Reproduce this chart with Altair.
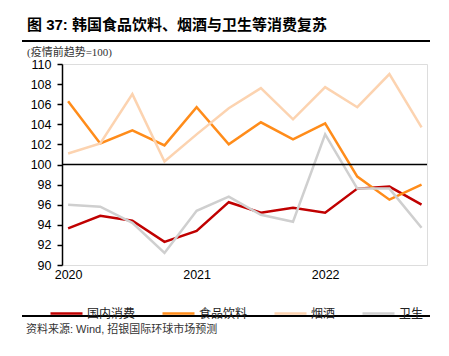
import altair as alt
import pandas as pd

# ---- data ----
quarters = list(range(12))  # 2020Q1 .. 2022Q4
year_labels = ["2020", "2021", "2022"]
year_ticks = [0, 4, 8]
series_names = ["国内消费", "食品饮料", "烟酒", "卫生"]
series_colors = ["#C00000", "#FF8C1A", "#FCD3B0", "#CFCFCF"]
domestic = [93.65, 94.9, 94.4, 92.3, 93.4, 96.25, 95.2, 95.7, 95.2, 97.6, 97.8, 96.0]
food = [106.3, 102.1, 103.4, 101.9, 105.7, 102.0, 104.2, 102.5, 104.1, 98.8, 96.5, 98.0]
tobacco = [101.1, 102.1, 107.0, 100.3, 103.0, 105.6, 107.6, 104.5, 107.7, 105.7, 109.0, 103.7]
hygiene = [96.0, 95.8, 94.2, 91.2, 95.4, 96.8, 95.0, 94.3, 103.0, 97.6, 97.6, 93.7]
y_ticks = list(range(90, 111, 2))

title_text = "图 37: 韩国食品饮料、烟酒与卫生等消费复苏"
subtitle_text = "(疫情前趋势=100)"
source_text = "资料来源: Wind, 招银国际环球市场预测"

rows = []
for name, vals in zip(series_names, [domestic, food, tobacco, hygiene]):
    for q, v in zip(quarters, vals):
        rows.append({"q": q, "value": v, "series": name})
df = pd.DataFrame(rows)

label_expr = " : ".join(
    f"datum.value == {t} ? '{l}'" for t, l in zip(year_ticks[:-1], year_labels[:-1])
) + f" : '{year_labels[-1]}'"

W, H = 365, 201
LAT = "Liberation Sans, Noto Sans CJK SC"
CJK = "Noto Sans CJK SC"

y_axis = alt.Axis(values=y_ticks, title=None, grid=False,
                  domainColor="black", domainWidth=1.5,
                  tickColor="black", tickWidth=1.5, tickSize=5,
                  labelOverlap=False,
                  labelFontSize=12.5, labelColor="black", labelFont=LAT,
                  labelPadding=6)
y_scale = alt.Scale(domain=[90, 110], nice=False, zero=False)

lines = alt.Chart(df).mark_line(strokeWidth=2.5, clip=False).encode(
    x=alt.X("q:Q",
            scale=alt.Scale(domain=[-0.19, 11.17], nice=False, zero=False),
            axis=alt.Axis(values=year_ticks, labelExpr=label_expr, title=None,
                          domain=False, ticks=False, grid=False,
                          labelFontSize=12.5, labelColor="black", labelFont=LAT,
                          labelPadding=3)),
    y=alt.Y("value:Q", scale=y_scale, axis=y_axis),
    color=alt.Color("series:N",
                    scale=alt.Scale(domain=series_names, range=series_colors),
                    sort=series_names,
                    legend=alt.Legend(title=None, orient="none", direction="horizontal",
                                      legendX=-13, legendY=232, symbolType="stroke",
                                      symbolSize=1024, symbolStrokeWidth=2.5,
                                      gridAlign="none",
                                      labelFontSize=12, labelFont=CJK, labelColor="#222",
                                      labelOffset=3, columnPadding=21, padding=0)),
    order=alt.Order("q:Q"),
)

base_rule_df = pd.DataFrame({"value": [100]})
hundred = alt.Chart(base_rule_df).mark_rule(color="black", strokeWidth=1.5).encode(
    y=alt.Y("value:Q", scale=y_scale, axis=y_axis), x=alt.value(0), x2=alt.value(W)
)

one = pd.DataFrame({"t": [0]})
title = alt.Chart(one).mark_text(align="left", baseline="middle", fontSize=15,
                                 fontWeight="bold", font=LAT, color="black").encode(
    x=alt.value(27 - 62), y=alt.value(25 - 64), text=alt.value(title_text))
subtitle = alt.Chart(one).mark_text(align="left", baseline="middle", fontSize=11,
                                    font="Liberation Serif, Noto Sans CJK SC", color="#333").encode(
    x=alt.value(27 - 62), y=alt.value(53 - 64), text=alt.value(subtitle_text))
source = alt.Chart(one).mark_text(align="left", baseline="middle", fontSize=11,
                                  font=LAT, color="#333").encode(
    x=alt.value(26 - 62), y=alt.value(330 - 64), text=alt.value(source_text))
top_line = alt.Chart(one).mark_rule(color="black", strokeWidth=2).encode(
    x=alt.value(22 - 62), x2=alt.value(430 - 62), y=alt.value(41 - 64))
top_stub = alt.Chart(one).mark_rule(color="black", strokeWidth=2).encode(
    x=alt.value(443 - 62), x2=alt.value(449 - 62), y=alt.value(42 - 64))
bot_line = alt.Chart(one).mark_rule(color="black", strokeWidth=2).encode(
    x=alt.value(22 - 62), x2=alt.value(430 - 62), y=alt.value(316 - 64))
bot_stub = alt.Chart(one).mark_rule(color="black", strokeWidth=2).encode(
    x=alt.value(443 - 62), x2=alt.value(449 - 62), y=alt.value(318 - 64))

chart = alt.layer(lines, hundred, title, subtitle, source, top_line, top_stub,
                  bot_line, bot_stub).properties(
    width=W, height=H,
    autosize=alt.AutoSizeParams(type="none"),
    padding={"left": 54, "top": 56, "right": 14, "bottom": 80},
).configure_view(stroke=None).configure(background="white")

chart.save("out.html", embed_options={"renderer": "svg", "actions": False})
